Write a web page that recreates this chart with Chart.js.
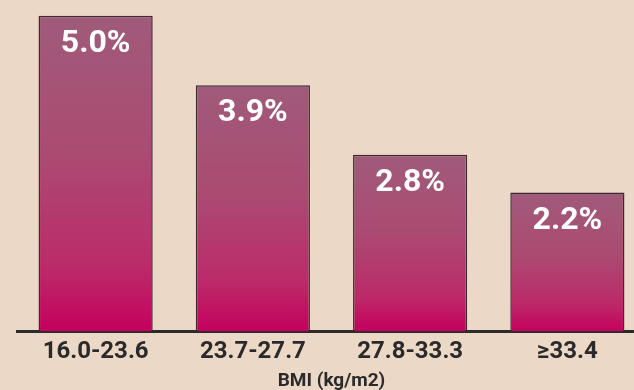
<!DOCTYPE html>
<html>
<head>
<meta charset="utf-8">
<script src="https://cdn.jsdelivr.net/npm/chart.js@4"></script>
<style>
  html, body { margin: 0; padding: 0; background: #ecd8c6; overflow: hidden; }
  #wrap { width: 646px; height: 390px; }
</style>
</head>
<body>
<div id="wrap"><canvas id="bmiChart"></canvas></div>
<script>
const categories = ['16.0-23.6', '23.7-27.7', '27.8-33.3', '\u226533.4'];
const rates = [5.0, 3.9, 2.8, 2.2];
const rateLabels = ['5.0%', '3.9%', '2.8%', '2.2%'];
const axisTitle = 'BMI (kg/m2)';

// white value labels near the top of each bar
const barLabels = {
  id: 'barLabels',
  afterDatasetsDraw(chart) {
    const ctx = chart.ctx;
    ctx.save();
    ctx.fillStyle = '#ffffff';
    ctx.font = 'bold 32px Roboto, sans-serif';
    ctx.textAlign = 'center';
    ctx.textBaseline = 'alphabetic';
    chart.getDatasetMeta(0).data.forEach((bar, i) => {
      ctx.fillText(rateLabels[i], bar.x, bar.y + 36);
    });
    ctx.restore();
  }
};

function barGradient(context) {
  const chart = context.chart;
  if (!chart.chartArea) return '#b8306a';
  const y = chart.scales.y;
  const top = y.getPixelForValue(context.raw);
  const bottom = y.getPixelForValue(0);
  const g = chart.ctx.createLinearGradient(0, top, 0, bottom);
  g.addColorStop(0, '#a05b7a');
  g.addColorStop(0.45, '#ab4a72');
  g.addColorStop(0.8, '#bc2a68');
  g.addColorStop(1, '#c4005e');
  return g;
}

new Chart(document.getElementById('bmiChart'), {
  type: 'bar',
  data: {
    labels: categories,
    datasets: [{
      data: rates,
      backgroundColor: barGradient,
      borderColor: '#3d2a31',
      borderWidth: 1.5,
      categoryPercentage: 1,
      barPercentage: 0.726
    }]
  },
  plugins: [barLabels],
  options: {
    responsive: true,
    maintainAspectRatio: false,
    animation: false,
    layout: { padding: { left: 17, right: 0, top: 0, bottom: 0 } },
    plugins: { legend: { display: false }, tooltip: { enabled: false } },
    scales: {
      y: {
        display: false,
        min: 0,
        max: 5.25
      },
      x: {
        grid: { display: false, drawTicks: false },
        border: { display: true, color: '#2b2b2b', width: 3 },
        ticks: {
          color: '#2a2a2a',
          font: { family: 'Roboto, sans-serif', size: 24, weight: 'bold' },
          padding: 6
        },
        title: {
          display: true,
          text: axisTitle,
          color: '#2a2a2a',
          font: { family: 'Roboto, sans-serif', size: 19, weight: 'bold' },
          padding: { top: -2, bottom: -3 }
        }
      }
    }
  }
});
</script>
</body>
</html>
